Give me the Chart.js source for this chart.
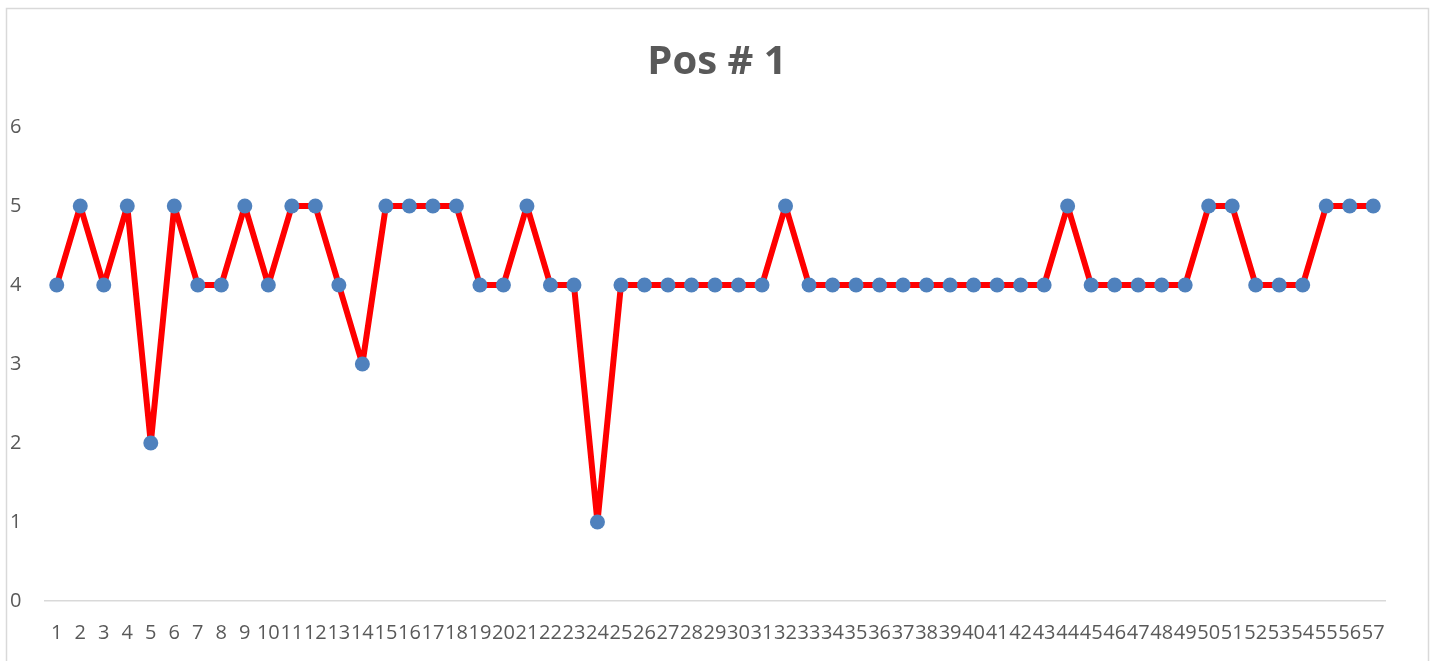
<!DOCTYPE html>
<html>
<head>
<meta charset="utf-8">
<script src="https://cdn.jsdelivr.net/npm/chart.js@4/dist/chart.umd.min.js"></script>
<style>
  html, body { margin: 0; padding: 0; background: #fff; }
  #wrap { position: relative; width: 1434px; height: 661px; }
</style>
</head>
<body>
<div id="wrap"><canvas id="posChart" width="1434" height="661"></canvas></div>
<script>
const labels = Array.from({ length: 57 }, (_, i) => String(i + 1));
const values = [
  4, 5, 4, 5, 2, 5, 4, 4, 5, 4,
  5, 5, 4, 3, 5, 5, 5, 5, 4, 4,
  5, 4, 4, 1, 4, 4, 4, 4, 4, 4,
  4, 5, 4, 4, 4, 4, 4, 4, 4, 4,
  4, 4, 4, 5, 4, 4, 4, 4, 4, 5,
  5, 4, 4, 4, 5, 5, 5
];
const yTicks = [0, 1, 2, 3, 4, 5, 6];
const titleText = "Pos # 1";
const titleFont = { family: "'Open Sans'", size: 40, weight: "bold" };

// frame + title centred on the whole canvas (not on the padded box)
const frame = {
  id: "frame",
  afterDraw(chart) {
    const ctx = chart.ctx;
    ctx.save();
    ctx.strokeStyle = "#D9D9D9";
    ctx.lineWidth = 1.5;
    ctx.strokeRect(6.5, 8.5, 1422, 660);
    const tb = chart.titleBlock;
    const midY = tb.top + 39 + (titleFont.size * 1.2) / 2;
    ctx.fillStyle = "#595959";
    ctx.font = `${titleFont.weight} ${titleFont.size}px ${titleFont.family}`;
    ctx.textAlign = "center";
    ctx.textBaseline = "middle";
    ctx.fillText(titleText, chart.width / 2, midY);
    ctx.restore();
  }
};

const ctx = document.getElementById("posChart").getContext("2d");
new Chart(ctx, {
  type: "line",
  data: {
    labels,
    datasets: [{
      label: titleText,
      data: values,
      borderColor: "#FF0000",
      borderWidth: 6,
      borderJoinStyle: "round",
      borderCapStyle: "round",
      pointRadius: 7.5,
      pointBackgroundColor: "#4F81BD",
      pointBorderWidth: 0,
      tension: 0
    }]
  },
  options: {
    responsive: false,
    animation: false,
    layout: { padding: { left: 10, right: 49, top: 0, bottom: 0 } },
    plugins: {
      legend: { display: false },
      tooltip: { enabled: false },
      title: {
        display: true,
        text: titleText,
        color: "rgba(0,0,0,0)",
        font: titleFont,
        padding: { top: 39, bottom: 40 }
      }
    },
    scales: {
      x: {
        offset: true,
        afterFit(scale) { scale.height = 60; },
        grid: { drawOnChartArea: false, drawTicks: false },
        border: { display: true, color: "#D9D9D9", width: 1.5 },
        ticks: {
          autoSkip: false,
          maxRotation: 0,
          minRotation: 0,
          padding: 20,
          color: "#595959",
          font: { family: "'Open Sans'", size: 20 }
        }
      },
      y: {
        min: 0,
        max: 6,
        afterFit(scale) { scale.width = 35; },
        afterBuildTicks(scale) { scale.ticks = yTicks.map(v => ({ value: v })); },
        grid: { display: false },
        border: { display: false },
        ticks: {
          crossAlign: "far",
          color: "#595959",
          font: { family: "'Open Sans'", size: 20 }
        }
      }
    }
  },
  plugins: [frame]
});
</script>
</body>
</html>
